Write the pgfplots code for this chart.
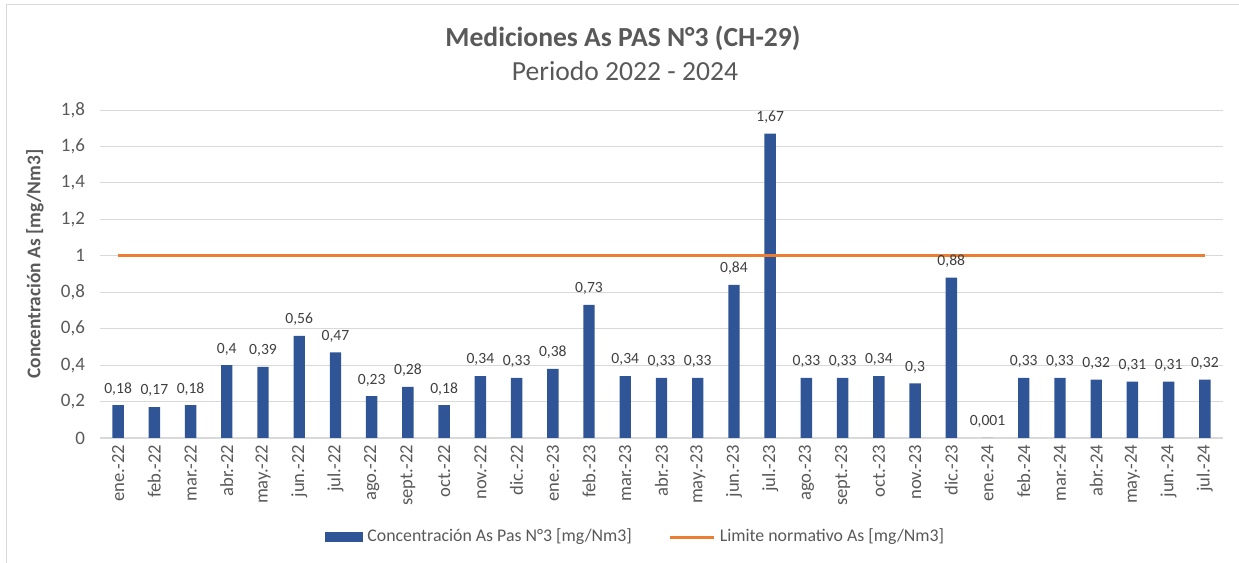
\documentclass[border=0pt]{standalone}
\usepackage{fontspec}
\setmainfont{Carlito}
\usepackage{pgfplots}
\pgfplotsset{compat=1.18}
\definecolor{barblue}{HTML}{2F5597}
\definecolor{limorange}{HTML}{ED7D31}
\definecolor{txtgray}{HTML}{595959}
\definecolor{lblgray}{HTML}{404040}
\definecolor{gridgray}{HTML}{D9D9D9}
\begin{document}
\begin{tikzpicture}
\useasboundingbox (0,0) rectangle (619.5pt,281.5pt);
% chart frame (only top and left edges are visible in the crop)
\draw[gridgray, line width=0.8pt] (3.25pt,0) -- (3.25pt,279.25pt) -- (619.5pt,279.25pt);
\node[txtgray, font=\fontsize{13.8}{15}\selectfont\bfseries] at (311.5pt,262.5pt) {Mediciones As PAS N°3 (CH-29)};
\node[txtgray, font=\fontsize{13.8}{15}\selectfont] at (312.5pt,246pt) {Periodo 2022 - 2024};
\node[txtgray, rotate=90, font=\fontsize{9.7}{11}\selectfont\bfseries] at (17.5pt,149.5pt) {Concentración As [mg/Nm3]};

\begin{axis}[
    at={(50pt,62.5pt)}, anchor=south west,
    width=561.5pt, height=164pt, scale only axis,
    xmin=-0.5, xmax=30.5,
    ymin=0, ymax=1.8,
    ytick={0,0.2,...,1.8},
    xtick=data,
    xticklabels={ene.-22,feb.-22,mar.-22,abr.-22,may.-22,jun.-22,jul.-22,ago.-22,sept.-22,oct.-22,nov.-22,dic.-22,
                 ene.-23,feb.-23,mar.-23,abr.-23,may.-23,jun.-23,jul.-23,ago.-23,sept.-23,oct.-23,nov.-23,dic.-23,
                 ene.-24,feb.-24,mar.-24,abr.-24,may.-24,jun.-24,jul.-24},
    x tick label style={rotate=90, anchor=east, font=\fontsize{9.3}{10}\selectfont, text=txtgray},
    y tick label style={font=\fontsize{9.5}{10}\selectfont, text=txtgray, xshift=-4pt,
        /pgf/number format/.cd, fixed, precision=1, use comma, assume math mode=true},
    major tick length=0pt,
    axis x line*=bottom, axis y line*=left,
    separate axis lines,
    x axis line style={draw=gridgray, line width=0.8pt},
    y axis line style={draw=none},
    ymajorgrids, grid style={gridgray, line width=0.5pt},
    clip=false,
    legend style={at={(0.478,-0.302)}, anchor=center, draw=none, fill=none,
        legend columns=2, font=\fontsize{8.9}{10}\selectfont, text=txtgray,
        /tikz/every even column/.append style={column sep=16.5pt}},
]
\addplot[ybar, bar width=5.7pt, fill=barblue, draw=none,
    nodes near coords,
    every node near coord/.append style={font=\fontsize{7.8}{9}\selectfont, text=lblgray, anchor=south, yshift=1.5pt,
        /pgf/number format/.cd, fixed, precision=3, use comma, assume math mode=true},
    legend image code/.code={\fill[barblue] (0pt,-2.7pt) rectangle (19pt,2.7pt);}]
coordinates {
(0,0.18) (1,0.17) (2,0.18) (3,0.4) (4,0.39) (5,0.56) (6,0.47) (7,0.23) (8,0.28) (9,0.18)
(10,0.34) (11,0.33) (12,0.38) (13,0.73) (14,0.34) (15,0.33) (16,0.33) (17,0.84) (18,1.67) (19,0.33)
(20,0.33) (21,0.34) (22,0.3) (23,0.88) (24,0.001) (25,0.33) (26,0.33) (27,0.32) (28,0.31) (29,0.31) (30,0.32)
};
\addlegendentry{Concentración As Pas N°3 [mg/Nm3]}
\addplot[limorange, line width=1.5pt,
    legend image code/.code={\draw[limorange, line width=1.5pt] (0pt,0pt) -- (22pt,0pt);}]
coordinates {
(0,1) (1,1) (2,1) (3,1) (4,1) (5,1) (6,1) (7,1) (8,1) (9,1)
(10,1) (11,1) (12,1) (13,1) (14,1) (15,1) (16,1) (17,1) (18,1) (19,1)
(20,1) (21,1) (22,1) (23,1) (24,1) (25,1) (26,1) (27,1) (28,1) (29,1) (30,1)
};
\addlegendentry{Limite normativo As [mg/Nm3]}
\end{axis}
\end{tikzpicture}
\end{document}
